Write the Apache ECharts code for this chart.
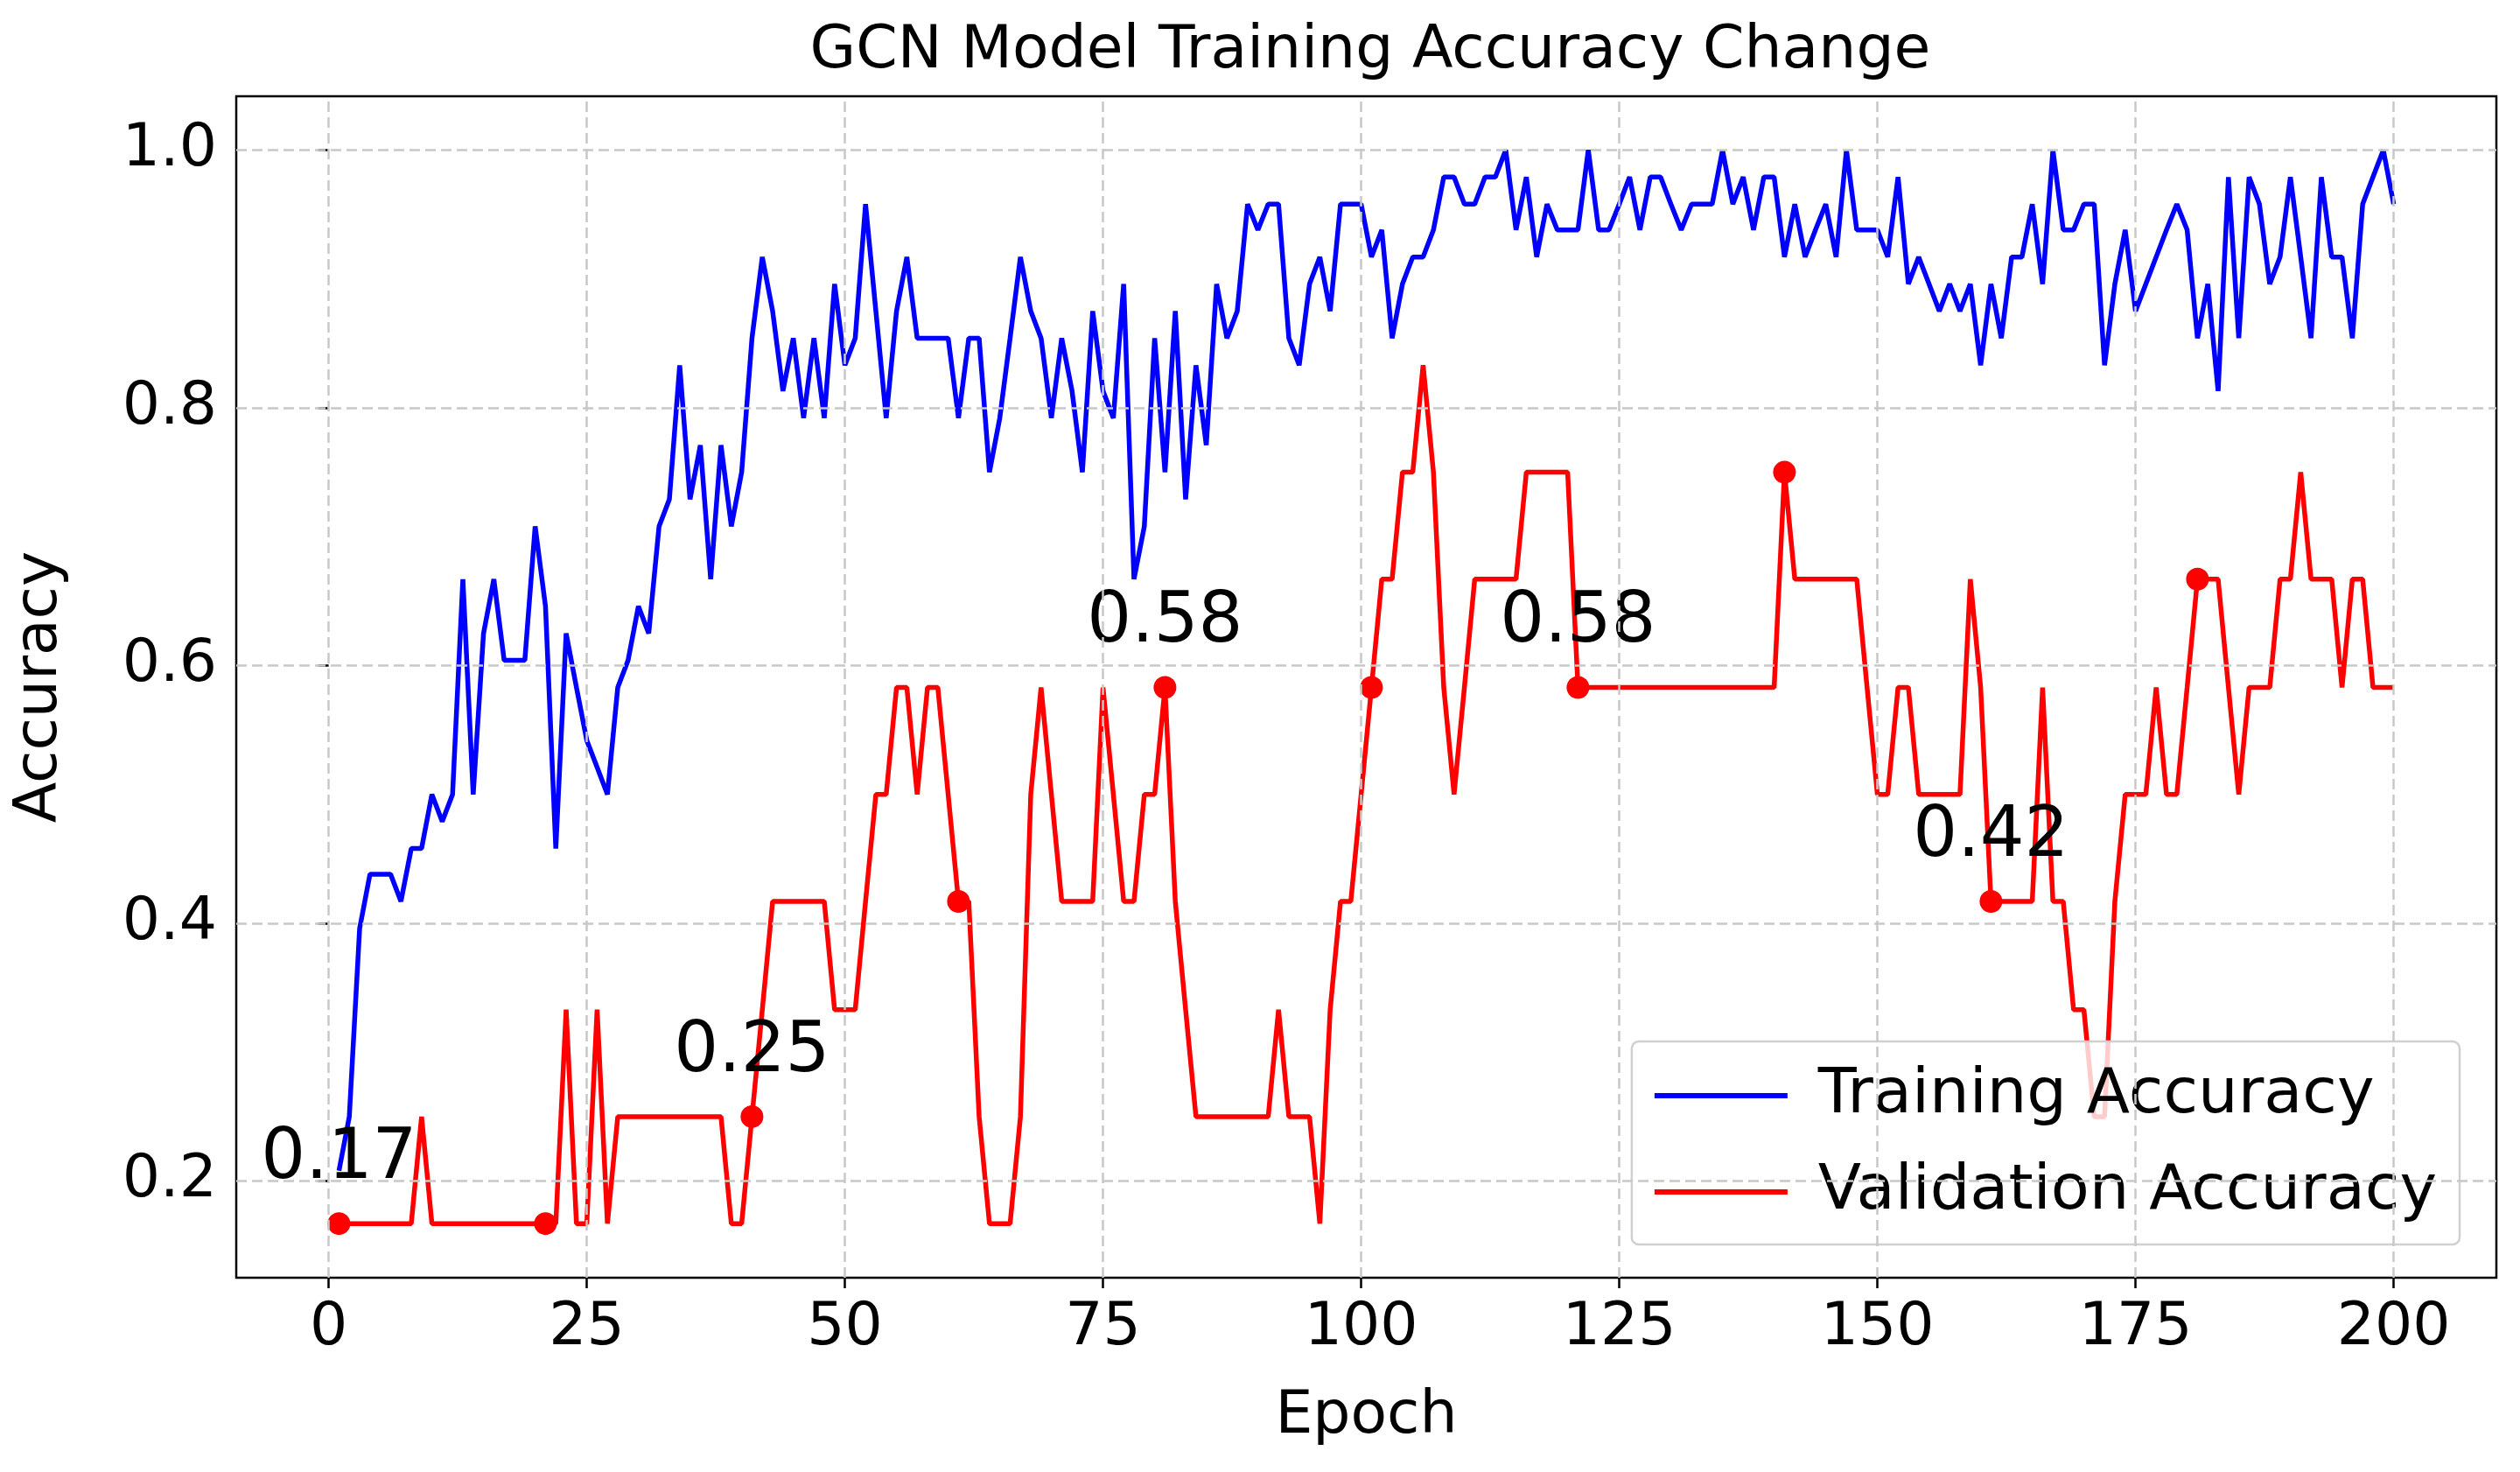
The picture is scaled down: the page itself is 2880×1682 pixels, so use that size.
<!DOCTYPE html>
<html><head><meta charset="utf-8">
<script src="https://cdn.jsdelivr.net/npm/echarts@6/dist/echarts.min.js"></script>
<style>html,body{margin:0;padding:0;background:#fff}#c{width:2880px;height:1682px}</style>
</head><body><div id="c"></div>
<script>
const trainAcc = [
0.208,0.25,0.396,0.438,0.438,0.438,0.417,0.458,0.458,0.5,
0.479,0.5,0.667,0.5,0.625,0.667,0.604,0.604,0.604,0.708,
0.646,0.458,0.625,0.583,0.542,0.521,0.5,0.583,0.604,0.646,
0.625,0.708,0.729,0.833,0.729,0.771,0.667,0.771,0.708,0.75,
0.854,0.917,0.875,0.813,0.854,0.792,0.854,0.792,0.896,0.833,
0.854,0.958,0.875,0.792,0.875,0.917,0.854,0.854,0.854,0.854,
0.792,0.854,0.854,0.75,0.792,0.854,0.917,0.875,0.854,0.792,
0.854,0.813,0.75,0.875,0.813,0.792,0.896,0.667,0.708,0.854,
0.75,0.875,0.729,0.833,0.771,0.896,0.854,0.875,0.958,0.938,
0.958,0.958,0.854,0.833,0.896,0.917,0.875,0.958,0.958,0.958,
0.917,0.938,0.854,0.896,0.917,0.917,0.938,0.979,0.979,0.958,
0.958,0.979,0.979,1.0,0.938,0.979,0.917,0.958,0.938,0.938,
0.938,1.0,0.938,0.938,0.958,0.979,0.938,0.979,0.979,0.958,
0.938,0.958,0.958,0.958,1.0,0.958,0.979,0.938,0.979,0.979,
0.917,0.958,0.917,0.938,0.958,0.917,1.0,0.938,0.938,0.938,
0.917,0.979,0.896,0.917,0.896,0.875,0.896,0.875,0.896,0.833,
0.896,0.854,0.917,0.917,0.958,0.896,1.0,0.938,0.938,0.958,
0.958,0.833,0.896,0.938,0.875,0.896,0.917,0.938,0.958,0.938,
0.854,0.896,0.813,0.979,0.854,0.979,0.958,0.896,0.917,0.979,
0.917,0.854,0.979,0.917,0.917,0.854,0.958,0.979,1.0,0.958];
const valAcc = [
0.167,0.167,0.167,0.167,0.167,0.167,0.167,0.167,0.25,0.167,
0.167,0.167,0.167,0.167,0.167,0.167,0.167,0.167,0.167,0.167,
0.167,0.167,0.333,0.167,0.167,0.333,0.167,0.25,0.25,0.25,
0.25,0.25,0.25,0.25,0.25,0.25,0.25,0.25,0.167,0.167,
0.25,0.333,0.417,0.417,0.417,0.417,0.417,0.417,0.333,0.333,
0.333,0.417,0.5,0.5,0.583,0.583,0.5,0.583,0.583,0.5,
0.417,0.417,0.25,0.167,0.167,0.167,0.25,0.5,0.583,0.5,
0.417,0.417,0.417,0.417,0.583,0.5,0.417,0.417,0.5,0.5,
0.583,0.417,0.333,0.25,0.25,0.25,0.25,0.25,0.25,0.25,
0.25,0.333,0.25,0.25,0.25,0.167,0.333,0.417,0.417,0.5,
0.583,0.667,0.667,0.75,0.75,0.833,0.75,0.583,0.5,0.583,
0.667,0.667,0.667,0.667,0.667,0.75,0.75,0.75,0.75,0.75,
0.583,0.583,0.583,0.583,0.583,0.583,0.583,0.583,0.583,0.583,
0.583,0.583,0.583,0.583,0.583,0.583,0.583,0.583,0.583,0.583,
0.75,0.667,0.667,0.667,0.667,0.667,0.667,0.667,0.583,0.5,
0.5,0.583,0.583,0.5,0.5,0.5,0.5,0.5,0.667,0.583,
0.417,0.417,0.417,0.417,0.417,0.583,0.417,0.417,0.333,0.333,
0.25,0.25,0.417,0.5,0.5,0.5,0.583,0.5,0.5,0.583,
0.667,0.667,0.667,0.583,0.5,0.583,0.583,0.583,0.667,0.667,
0.75,0.667,0.667,0.667,0.583,0.667,0.667,0.583,0.583,0.583];
const markerEpochs = [1,21,41,61,81,101,121,141,161,181];
const labelEpochs = [1,41,81,121,161];
const xTicks = [0,25,50,75,100,125,150,175,200];
const yTicks = [0.2,0.4,0.6,0.8,1.0];

const F = 'DejaVu Sans';
const trainData = trainAcc.map((v,i)=>[i+1,v]);
const valData = valAcc.map((v,i)=>[i+1,v]);
const markData = markerEpochs.map(e=>({value:[e,valAcc[e-1]], label:{show:labelEpochs.includes(e)}}));
const gridStyle = {color:'#c8c8c8', type:[12,6], width:2.5};
const gridLines = xTicks.map(t=>({xAxis:t})).concat(yTicks.map(t=>({yAxis:t})));

const chart = echarts.init(document.getElementById('c'));
chart.setOption({
  animation:false,
  title:{text:'GCN Model Training Accuracy Change', left:1561, top:20, textAlign:'center',
    textStyle:{fontFamily:F, fontSize:68, fontWeight:'normal', color:'#000'}},
  grid:{left:270, right:27, top:110, bottom:222, show:true, borderColor:'#000', borderWidth:2.5, containLabel:false},
  legend:{data:['Training Accuracy','Validation Accuracy'], orient:'vertical', right:69, bottom:260,
    itemWidth:152, itemHeight:6, itemGap:38, padding:[26,26,24,26],
    borderColor:'#d0d0d0', borderWidth:2.5, borderRadius:8, backgroundColor:'rgba(255,255,255,0.8)',
    textStyle:{fontFamily:F, fontSize:72, color:'#000', padding:[0,0,0,30]}, icon:'rect'},
  xAxis:{type:'value', min:-8.95, max:209.95, name:'Epoch', nameLocation:'middle', nameGap:125,
    nameTextStyle:{fontFamily:F, fontSize:68, color:'#000'},
    axisLine:{show:false}, splitLine:{show:false},
    axisTick:{show:true, inside:false, length:12, lineStyle:{color:'#000', width:2.5}, customValues:xTicks},
    axisLabel:{fontFamily:F, fontSize:68, color:'#000', margin:24, customValues:xTicks}},
  yAxis:{type:'value', min:0.125, max:1.0417, name:'Accuracy', nameLocation:'middle', nameGap:190,
    nameTextStyle:{fontFamily:F, fontSize:68, color:'#000'},
    axisLine:{show:false}, splitLine:{show:false},
    axisTick:{show:true, inside:false, length:12, lineStyle:{color:'#000', width:2.5}, customValues:yTicks},
    axisLabel:{fontFamily:F, fontSize:68, color:'#000', margin:22, customValues:yTicks, formatter:v=>v.toFixed(1)}},
  series:[
    {name:'gridlines', type:'line', data:[], silent:true,
      markLine:{silent:true, symbol:'none', label:{show:false}, lineStyle:gridStyle, data:gridLines, animation:false}},
    {name:'Training Accuracy', type:'line', data:trainData, showSymbol:false, symbol:'none',
      lineStyle:{color:'#0000ff', width:5.5}, itemStyle:{color:'#0000ff'}, z:3},
    {name:'Validation Accuracy', type:'line', data:valData, showSymbol:false, symbol:'none',
      lineStyle:{color:'#ff0000', width:5.5}, itemStyle:{color:'#ff0000'}, z:3},
    {name:'markers', type:'scatter', data:markData, symbolSize:26, itemStyle:{color:'#ff0000', opacity:1}, z:4,
      label:{position:'top', distance:20, fontFamily:F, fontSize:80, color:'#000', opacity:1,
        formatter:p=>p.value[1].toFixed(2)}}
  ]
});
</script></body></html>
